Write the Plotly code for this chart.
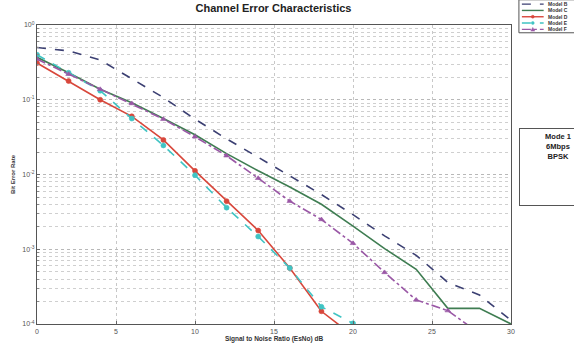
import plotly.graph_objects as go

snr = [0, 2, 4, 6, 8, 10, 12, 14, 16, 18, 20, 22, 24, 26, 28, 30]
model_b = [0.50, 0.45, 0.34, 0.19, 0.107, 0.055, 0.030, 0.017, 0.0095, 0.0054, 0.0029, 0.00151, 0.00083, 0.00036, 0.000245, 0.000112]
model_c = [0.37, 0.23, 0.138, 0.091, 0.056, 0.034, 0.019, 0.0112, 0.0068, 0.0040, 0.00204, 0.00102, 0.00054, 0.000162, 0.000162, 0.0001]
model_d = [0.31, 0.178, 0.100, 0.060, 0.029, 0.0112, 0.0044, 0.00178, 0.00056, 0.000148, 0.00007]
model_e = [0.40, 0.23, 0.132, 0.056, 0.0245, 0.0098, 0.0036, 0.00148, 0.00056, 0.00017, 0.000102]
model_f = [0.35, 0.22, 0.138, 0.089, 0.055, 0.032, 0.0178, 0.0089, 0.0044, 0.0025, 0.0012, 0.00049, 0.00021, 0.000151, 0.000075]

y_tick_vals = [1, 0.1, 0.01, 0.001, 0.0001]
y_tick_text = ["10<sup>0</sup>", "10<sup>-1</sup>", "10<sup>-2</sup>", "10<sup>-3</sup>", "10<sup>-4</sup>"]
x_tick_vals = [0, 5, 10, 15, 20, 25, 30]

names = ["Model B", "Model C", "Model D", "Model E", "Model F"]
colors = ["#3b3f72", "#3f7d52", "#d8473b", "#40c4c4", "#9a58a6"]
dashes = ["dash", "solid", "solid", "dash", "dashdot"]
symbols = [None, None, "circle", "circle", "triangle-up"]

fig = go.Figure()
series = [model_b, model_c, model_d, model_e, model_f]
for name, ys, col, dsh, sym in zip(names, series, colors, dashes, symbols):
    xs = snr[:len(ys)]
    kw = dict(mode="lines")
    if sym:
        kw = dict(mode="lines+markers", marker=dict(symbol=sym, size=5, color=col,
                                                    line=dict(width=0.6, color=col)))
    fig.add_trace(go.Scatter(x=xs, y=ys, name=name, line=dict(color=col, width=1.6, dash=dsh),
                             showlegend=False, cliponaxis=True, **kw))

L, R, T, B = 32, 511, 25, 333
W, H = 574, 353


def X(px):
    return (px - L) / (R - L)


def Y(py):
    return (B - py) / (B - T)


shapes = []
annotations = []
# legend box
shapes.append(dict(type="rect", xref="paper", yref="paper", x0=X(519), x1=X(580), y0=Y(33), y1=Y(-1),
                   line=dict(color="#555", width=1), fillcolor="white", layer="above"))
ys_leg = [3.5, 10, 16.5, 23, 29.5]
for i, (name, col, dsh, sym) in enumerate(zip(names, colors, dashes, symbols)):
    yy = ys_leg[i]
    shapes.append(dict(type="line", xref="paper", yref="paper", x0=X(522), x1=X(544), y0=Y(yy), y1=Y(yy),
                       line=dict(color=col, width=1.4, dash=dsh), layer="above"))
    if sym == "circle":
        shapes.append(dict(type="circle", xref="paper", yref="paper", x0=X(531.5), x1=X(534.5),
                           y0=Y(yy + 1.5), y1=Y(yy - 1.5), fillcolor=col, line=dict(color=col, width=0.5),
                           layer="above"))
    elif sym == "triangle-up":
        shapes.append(dict(type="path", xref="paper", yref="paper",
                           path="M %f %f L %f %f L %f %f Z" % (X(531), Y(yy + 1.8), X(535), Y(yy + 1.8), X(533), Y(yy - 2)),
                           fillcolor=col, line=dict(color=col, width=0.5), layer="above"))
    annotations.append(dict(text="<b>" + name + "</b>", xref="paper", yref="paper", x=X(546), y=Y(yy),
                            xanchor="left", yanchor="middle", showarrow=False,
                            font=dict(size=5, color="#333", family="Liberation Sans")))

# mode box
annotations.append(dict(text="<b>Mode 1<br>6Mbps<br>BPSK</b>", xref="paper", yref="paper",
                        x=X(519), y=Y(131), xanchor="left", yanchor="top", showarrow=False,
                        width=70, height=70, align="center", valign="top", borderpad=3,
                        bordercolor="#555", borderwidth=1, bgcolor="white",
                        font=dict(size=7.5, color="#222", family="Liberation Sans")))

fig.update_layout(
    width=W, height=H,
    margin=dict(l=L, r=W - R, t=T, b=H - B),
    paper_bgcolor="white", plot_bgcolor="white",
    title=dict(text="<b>Channel Error Characteristics</b>", x=X(271), xref="paper", xanchor="center",
               y=1 - 8 / H, yanchor="middle", font=dict(size=11, color="#222", family="Liberation Sans")),
    font=dict(family="Liberation Sans", color="#444"),
    shapes=shapes, annotations=annotations,
    xaxis=dict(range=[0, 30], tickvals=x_tick_vals, ticks="inside", ticklen=3, tickcolor="#666",
               showgrid=True, gridcolor="#c8c8c8", griddash="dot", gridwidth=1,
               showline=True, linecolor="#555", linewidth=1.2, mirror=True, zeroline=False,
               tickfont=dict(size=7, color="#555"),
               title=dict(text="<b>Signal to Noise Ratio (EsNo) dB</b>", standoff=2,
                          font=dict(size=6.5, color="#333"))),
    yaxis=dict(type="log", range=[-4, 0], tickvals=y_tick_vals, ticktext=y_tick_text,
               ticks="inside", ticklen=3, tickcolor="#666",
               showgrid=True, gridcolor="#b8b8b8", griddash="dot", gridwidth=1,
               minor=dict(showgrid=True, gridcolor="#cfcfcf", griddash="dot", ticks="inside",
                          ticklen=2, tickcolor="#888", dtick="D1"),
               showline=True, linecolor="#555", linewidth=1.2, mirror=True, zeroline=False,
               tickfont=dict(size=7, color="#555"),
               title=dict(text="<b>Bit Error Rate</b>", standoff=6, font=dict(size=6, color="#333"))),
)

fig.write_html("out.html")
